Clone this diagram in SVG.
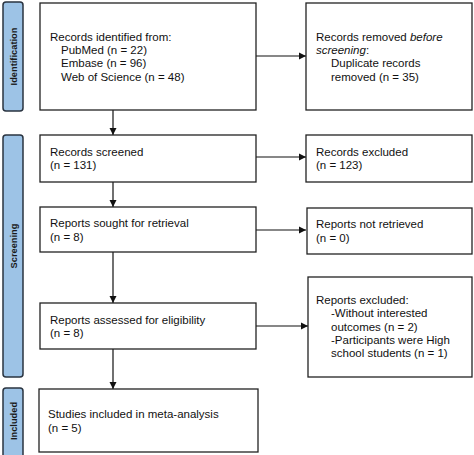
<svg xmlns="http://www.w3.org/2000/svg" width="474" height="455" viewBox="0 0 474 455">
<style>
.box{fill:#fff;stroke:#222;stroke-width:1.3}
.bar{fill:#9dc3e6;stroke:#2a3440;stroke-width:1.5}
.t{font-family:"Liberation Sans",Arial,sans-serif;font-size:11.5px;fill:#111}
.bt{font-family:"Liberation Sans",Arial,sans-serif;font-size:9.3px;font-weight:bold;fill:#1a1a1a}
.c{stroke:#111;stroke-width:1.2;fill:none}
</style>
<defs>
<marker id="ah" markerWidth="8" markerHeight="8" refX="7" refY="4" orient="auto" markerUnits="userSpaceOnUse">
<path d="M0,0.5 L7,4 L0,7.5 Z" fill="#111"/>
</marker>
</defs>
<rect width="474" height="455" fill="#fff"/>
<g id="bar-identification">
<rect class="bar" x="3" y="2" width="20" height="109" rx="3"/>
<text class="bt" transform="translate(16.5,56.5) rotate(-90)" text-anchor="middle">Identification</text>
</g>
<g id="bar-screening">
<rect class="bar" x="3" y="135" width="20" height="242" rx="3"/>
<text class="bt" transform="translate(16.5,246) rotate(-90)" text-anchor="middle">Screening</text>
</g>
<g id="bar-included">
<rect class="bar" x="3" y="388" width="20" height="72" rx="3"/>
<text class="bt" transform="translate(16.5,421) rotate(-90)" text-anchor="middle">Included</text>
</g>
<g id="connectors">
<line class="c" x1="256" y1="56" x2="306" y2="56" marker-end="url(#ah)"/>
<line class="c" x1="113" y1="110" x2="113" y2="135" marker-end="url(#ah)"/>
<line class="c" x1="256" y1="157" x2="306" y2="157" marker-end="url(#ah)"/>
<line class="c" x1="113" y1="182" x2="113" y2="207" marker-end="url(#ah)"/>
<line class="c" x1="256" y1="230" x2="306" y2="230" marker-end="url(#ah)"/>
<line class="c" x1="113" y1="252" x2="113" y2="303" marker-end="url(#ah)"/>
<line class="c" x1="256" y1="326" x2="308" y2="326" marker-end="url(#ah)"/>
<line class="c" x1="113" y1="349" x2="113" y2="389" marker-end="url(#ah)"/>
</g>
<g id="identified">
<rect class="box" x="40" y="3" width="216" height="107"/>
<text class="t" x="50" y="41">Records identified from:</text>
<text class="t" x="61" y="54">PubMed (n = 22)</text>
<text class="t" x="61" y="67">Embase (n = 96)</text>
<text class="t" x="61" y="81">Web of Science (n = 48)</text>
</g>
<g id="removed">
<rect class="box" x="306" y="3" width="166" height="107"/>
<text class="t" x="316" y="41">Records removed <tspan font-style="italic">before</tspan></text>
<text class="t" x="316" y="54"><tspan font-style="italic">screening</tspan>:</text>
<text class="t" x="331" y="67">Duplicate records</text>
<text class="t" x="331" y="81">removed (n = 35)</text>
</g>
<g id="screened">
<rect class="box" x="40" y="135" width="216" height="47"/>
<text class="t" x="50" y="156">Records screened</text>
<text class="t" x="50" y="169">(n = 131)</text>
</g>
<g id="excluded">
<rect class="box" x="306" y="135" width="166" height="47"/>
<text class="t" x="316" y="156">Records excluded</text>
<text class="t" x="316" y="169">(n = 123)</text>
</g>
<g id="sought">
<rect class="box" x="40" y="207" width="216" height="45"/>
<text class="t" x="50" y="227">Reports sought for retrieval</text>
<text class="t" x="50" y="241">(n = 8)</text>
</g>
<g id="not-retrieved">
<rect class="box" x="307" y="208" width="165" height="46"/>
<text class="t" x="316" y="228">Reports not retrieved</text>
<text class="t" x="316" y="242">(n = 0)</text>
</g>
<g id="assessed">
<rect class="box" x="40" y="303" width="216" height="46"/>
<text class="t" x="50" y="324">Reports assessed for eligibility</text>
<text class="t" x="50" y="337">(n = 8)</text>
</g>
<g id="reports-excluded">
<rect class="box" x="308" y="277" width="164" height="100"/>
<text class="t" x="316" y="304">Reports excluded:</text>
<text class="t" x="331" y="317">-Without interested</text>
<text class="t" x="331" y="331">outcomes (n = 2)</text>
<text class="t" x="331" y="344">-Participants were High</text>
<text class="t" x="331" y="357">school students (n = 1)</text>
</g>
<g id="included">
<rect class="box" x="39" y="389" width="219" height="63"/>
<text class="t" x="48" y="418">Studies included in meta-analysis</text>
<text class="t" x="48" y="432">(n = 5)</text>
</g>
</svg>
